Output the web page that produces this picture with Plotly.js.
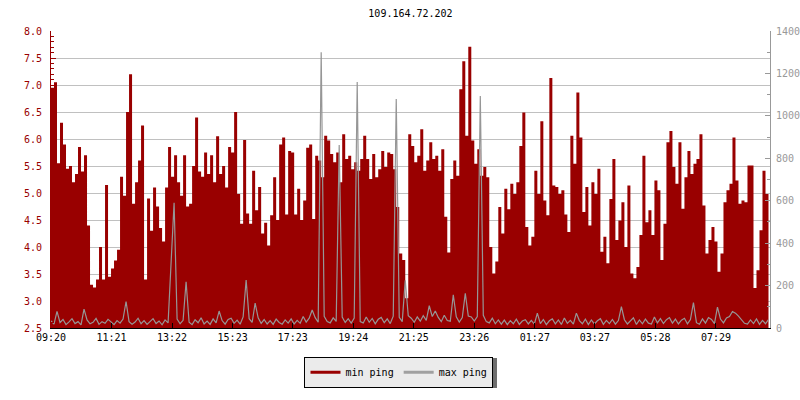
<!DOCTYPE html>
<html>
<head>
<meta charset="utf-8">
<script src="https://cdn.plot.ly/plotly-3.0.1.min.js"></script>
<style>html,body{margin:0;padding:0;background:#fff;}#chart{width:800px;height:400px;}</style>
</head>
<body>
<div id="chart"></div>
<script>
// ---- data ----
const chartTitle = "109.164.72.202";
const startTime = "09:20";
const stepMinutes = 6;
const tickLabels = ["09:20","11:21","13:22","15:23","17:23","19:24","21:25","23:26","01:27","03:27","05:28","07:29"];
const seriesNames = ["min ping", "max ping"];

// min ping (left axis), one value per 6 minutes
const minPing = [
 6.95,7.05,5.55,6.3,5.9,5.45,5.5,5.2,5.35,5.85,5.4,5.7,4.4,3.3,3.25,3.4,4.0,3.4,5.15,3.45,
 3.6,3.75,3.95,5.3,4.95,6.5,7.2,4.8,5.2,5.6,6.25,3.4,4.9,4.3,5.1,4.75,4.35,4.1,5.1,5.85,
 5.3,5.7,5.2,4.95,5.7,4.75,4.8,5.5,6.4,5.4,5.3,5.75,5.35,5.7,5.2,6.05,5.35,5.5,5.1,5.85,
 5.75,6.5,4.98,4.43,5.98,4.62,4.43,5.41,4.68,5.11,4.25,4.45,4.03,4.59,5.29,4.5,5.90,6.03,4.6,5.78,
 5.75,4.6,5.08,4.5,4.86,5.84,5.90,4.52,5.69,5.60,5.29,6.06,5.97,5.72,5.57,5.75,5.2,6.09,5.63,5.69,
 5.44,5.57,5.41,5.63,6.06,5.63,5.26,5.72,5.29,5.44,5.78,5.48,5.75,5.72,5.44,4.74,3.88,3.76,3.05,6.09,
 5.87,5.57,5.69,6.18,5.41,5.60,5.94,5.63,5.69,5.41,5.81,4.56,3.9,5.26,5.60,5.32,6.92,7.44,6.06,7.71,
 5.97,5.54,5.81,5.32,5.48,5.29,4.00,3.51,3.73,4.74,4.25,5.08,4.7,5.17,4.98,5.20,5.87,6.49,4.37,4.03,
 4.19,5.41,4.98,6.33,4.86,4.59,7.13,5.14,5.11,4.98,5.05,4.6,4.28,6.06,5.54,6.86,6.03,4.65,5.11,4.40,
 5.20,4.98,5.45,3.91,4.19,3.70,4.89,5.63,4.13,4.49,4.83,4.00,5.14,3.51,3.42,3.63,4.22,5.69,4.46,4.68,
 4.22,5.23,5.05,3.76,4.43,5.94,6.15,5.48,5.17,5.94,4.71,5.29,5.78,5.35,5.54,5.63,6.09,4.77,3.88,4.13,
 4.37,4.10,3.54,3.88,4.83,5.05,5.17,6.03,5.23,4.80,4.86,4.83,5.51,5.51,3.24,3.57,4.31,5.41,4.98,5.41
];

// max ping (right axis), one value per 6 minutes
const maxPing = [
 34,18,78,26,40,16,29,44,21,30,15,89,38,20,27,45,17,30,22,41,
 29,16,35,23,42,125,30,18,28,46,20,35,17,29,44,21,33,15,38,24,
 300,590,42,20,36,218,27,16,39,25,48,19,33,17,43,24,80,35,18,40,
 46,22,37,18,52,226,44,26,117,48,22,40,19,35,17,42,26,18,38,23,
 43,19,36,22,54,28,46,85,49,27,1300,55,30,24,48,31,863,52,26,44,
 23,47,1160,30,24,52,27,45,20,41,50,25,43,21,56,1080,50,30,225,58,
 46,27,52,32,58,36,105,54,80,50,30,60,35,32,156,53,28,49,164,56,
 52,33,54,1093,60,30,24,46,20,38,18,37,16,35,20,42,17,33,39,19,
 36,18,70,21,40,16,34,43,19,38,17,47,22,36,18,70,35,20,42,16,
 38,19,34,44,17,36,21,40,18,35,101,39,19,34,48,17,38,20,42,23,
 19,52,24,44,21,39,49,23,42,19,37,46,20,40,120,25,18,43,23,49,
 40,21,98,42,24,47,54,78,70,56,40,22,18,38,21,43,17,36,20,40
];

// ---- derived ----
function toMin(s){const p=s.split(":");return (+p[0])*60+(+p[1]);}
const t0 = toMin(startTime);
const tickVals = tickLabels.map(s => (toMin(s) - t0 + 1440) % 1440);
const xs = minPing.map((_, i) => i * stepMinutes);

const RED = "#990000", GREY = "#969696";
const FONT = "DejaVu Sans Mono, monospace";

const traces = [
  {x: xs, y: minPing, type: "scatter", mode: "lines", line: {shape: "hv", width: 0, color: RED},
   fill: "tozeroy", fillcolor: RED, showlegend: false, hoverinfo: "x+y", yaxis: "y"},
  {x: xs, y: maxPing, type: "scatter", mode: "lines", line: {width: 1.2, color: GREY},
   showlegend: false, yaxis: "y2"},
  {x: [null], y: [null], type: "scatter", mode: "lines", name: seriesNames[0], line: {color: RED, width: 3}, yaxis: "y"},
  {x: [null], y: [null], type: "scatter", mode: "lines", name: seriesNames[1], line: {color: "#a0a0a0", width: 3}, yaxis: "y2"}
];

const layout = {
  width: 800, height: 400,
  margin: {l: 51, r: 30, t: 31, b: 70, pad: 0},
  paper_bgcolor: "#fff", plot_bgcolor: "#fff",
  font: {family: FONT, size: 10, color: "#000"},
  title: {text: chartTitle, font: {family: FONT, size: 10, color: "#000"},
          x: 0.5, xref: "paper", y: 1 - 13/400, yref: "container", yanchor: "middle"},
  showlegend: true,
  legend: {orientation: "h", x: 0.484, xanchor: "center", y: -0.097, yanchor: "top",
           bgcolor: "#ebebeb", bordercolor: "#000", borderwidth: 1,
           font: {family: FONT, size: 10, color: "#000"}, itemwidth: 30, tracegroupgap: 0},
  xaxis: {range: [0, 1437], tickmode: "array", tickvals: tickVals, ticktext: tickLabels,
          ticks: "inside", ticklen: 5, tickcolor: "#000", showline: true, linecolor: "#000", linewidth: 1,
          showgrid: false, zeroline: false, tickfont: {family: FONT, size: 10, color: "#000"}},
  yaxis: {range: [2.5, 8.0], dtick: 0.5, tick0: 2.5, tickformat: ".1f",
          ticks: "inside", ticklen: 5, tickcolor: RED, showline: true, linecolor: RED, linewidth: 1,
          showgrid: true, gridcolor: "#c0c0c0", gridwidth: 1, zeroline: false,
          tickfont: {family: FONT, size: 10, color: RED}, ticklabelstandoff: 6,
          minor: {dtick: 0.1, ticks: "inside", ticklen: 3, tickcolor: RED, showgrid: false}},
  yaxis2: {range: [0, 1400], dtick: 200, tick0: 0, overlaying: "y", side: "right",
           ticks: "inside", ticklen: 5, tickcolor: "#999", showline: true, linecolor: "#999", linewidth: 1,
           showgrid: false, zeroline: false, tickfont: {family: FONT, size: 10, color: "#999"},
           ticklabelstandoff: 3,
           minor: {dtick: 100, ticks: "inside", ticklen: 3, tickcolor: "#999", showgrid: false}}
};

const gd = document.getElementById("chart");
Plotly.newPlot(gd, traces, layout, {displayModeBar: false, staticPlot: true}).then(function(){
  const bg = gd.querySelector(".legend .bg");
  if (!bg) return;
  const r = bg.getBoundingClientRect();
  const g = gd.getBoundingClientRect();
  const L = 51, T = 31, W = 719, H = 299;
  const x0 = r.left - g.left + 4, x1 = r.right - g.left + 4;
  const y0 = r.top - g.top + 3, y1 = r.bottom - g.top + 3;
  Plotly.relayout(gd, {shapes: [{type: "rect", xref: "paper", yref: "paper", layer: "above",
    x0: (x0 - L)/W, x1: (x1 - L)/W, y0: (T + H - y0)/H, y1: (T + H - y1)/H,
    fillcolor: "#6e6e6e", line: {width: 0}}]});
});
</script>
</body>
</html>
